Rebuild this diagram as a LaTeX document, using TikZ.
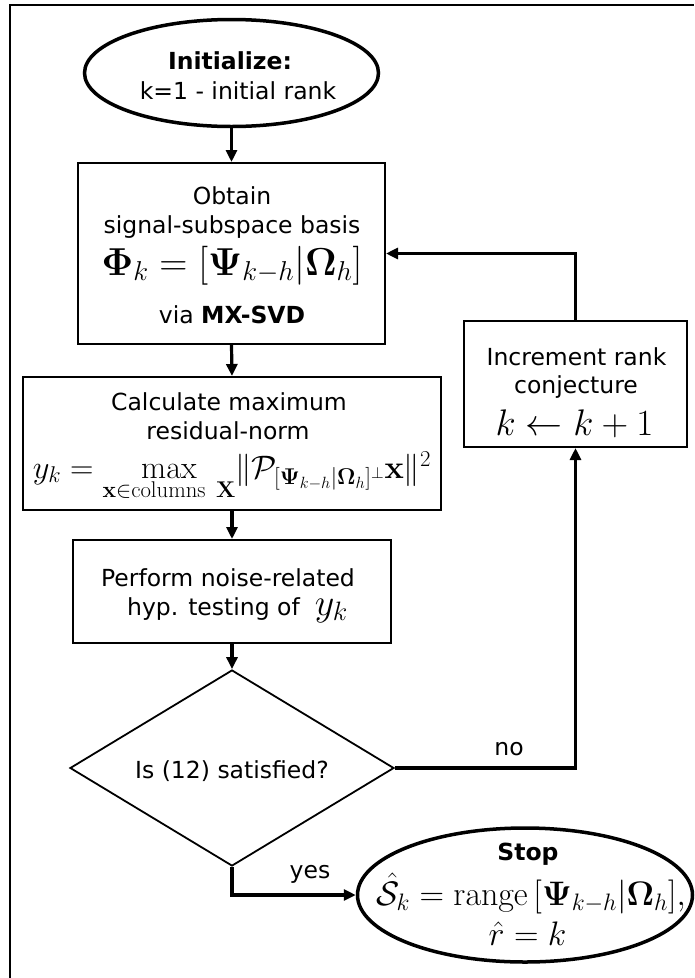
\RequirePackage{fix-cm}
\documentclass[tikz,border=0pt]{standalone}
\usepackage{amsmath}
\usepackage[no-math]{fontspec}
\setmainfont{DejaVu Sans}
\usetikzlibrary{shapes.geometric,arrows.meta}
\tikzset{
  txt/.style={font=\fontsize{23.5}{28}\selectfont, inner sep=0pt, anchor=base},
  boxn/.style={draw, line width=2pt, rectangle, inner sep=0pt},
  ell/.style={draw, line width=3.5pt, ellipse, inner sep=0pt},
  diam/.style={draw, line width=1.8pt, diamond, inner sep=0pt},
  arr/.style={line width=3.2pt, -{Triangle[length=12pt,width=11pt]}},
}
\newcommand{\mfs}[1]{\fontsize{#1}{#1}\selectfont}
\begin{document}
\begin{tikzpicture}[x=1pt,y=-1pt]
\useasboundingbox (0,0) rectangle (694,978);
\draw[line width=2.2pt] (10,978) -- (10,5) -- (694,5);

% shapes
\node[ell, minimum width=294pt, minimum height=107pt] (init) at (231.5,73) {};
\node[boxn, minimum width=307pt, minimum height=181pt] (obtain) at (231.5,253.5) {};
\node[boxn, minimum width=418pt, minimum height=133pt] (calc) at (232,443.5) {};
\node[boxn, minimum width=318pt, minimum height=103pt] (perf) at (232,591.5) {};
\node[diam, minimum width=324pt, minimum height=196pt] (dia) at (232,768) {};
\node[boxn, minimum width=223pt, minimum height=126pt] (incr) at (575.5,384) {};
\node[ell, minimum width=335pt, minimum height=134pt] (stop) at (525,895) {};

% texts
\node[txt] (t1) at (230,69) {\textbf{Initialize:}};
\node[txt] (t2) at (238,99) {k=1 - initial rank};

\node[txt] (t3) at (232,204) {Obtain};
\node[txt] (t4) at (232,233) {signal-subspace basis};
\node[txt] (t5) at (232,275) {\mfs{39}$\mathbf{\Phi}_k=[\mathbf{\Psi}_{k-h}|\mathbf{\Omega}_h]$};
\node[txt] (t6) at (232,323) {via \textbf{MX-SVD}};

\node[txt] (t7) at (229,410) {Calculate maximum};
\node[txt] (t8) at (228,439) {residual-norm};
\node[txt] (t9) at (232,478) {\mfs{32.5}$y_k=\max\limits_{\mathbf{x}\in\mathrm{columns}\ \mathbf{X}}\!\|\mathcal{P}_{[\mathbf{\Psi}_{k-h}|\mathbf{\Omega}_h]^\perp}\mathbf{x}\|^2$};

\node[txt] (t10) at (228,586) {Perform noise-related};
\node[txt] (t11) at (237.5,615) {hyp. testing of\ \ {\mfs{38}$y_k$}};

\node[txt] (t12) at (232,778) {Is (12) satisfied?};

\node[txt] (t13) at (576.5,365) {Increment rank};
\node[txt] (t14) at (576,393) {conjecture};
\node[txt] (t15) at (574.5,435) {\mfs{37}$k\leftarrow k+1$};

\node[txt] (t16) at (528,860) {\textbf{Stop}};
\node[txt] (t17) at (531,905) {\mfs{34}$\hat{\mathcal{S}}_k=\mathrm{range}\,[\mathbf{\Psi}_{k-h}|\mathbf{\Omega}_h],$};
\node[txt] (t18) at (527.5,945) {\mfs{34}$\hat{r}=k$};

\node[txt] (no) at (509,755) {no};
\node[txt] (yes) at (310,878) {yes};

% connectors
\draw[arr] (init.south) -- (obtain.north);
\draw[arr] (obtain.south) -- (calc.north);
\draw[arr] (calc.south) -- (perf.north);
\draw[arr] (perf.south) -- (dia.north);
\draw[arr] (dia.east) -| (incr.south);
\draw[arr] (incr.north) |- (obtain.east);
\draw[arr] (dia.south) |- (stop.west);
\end{tikzpicture}
\end{document}
